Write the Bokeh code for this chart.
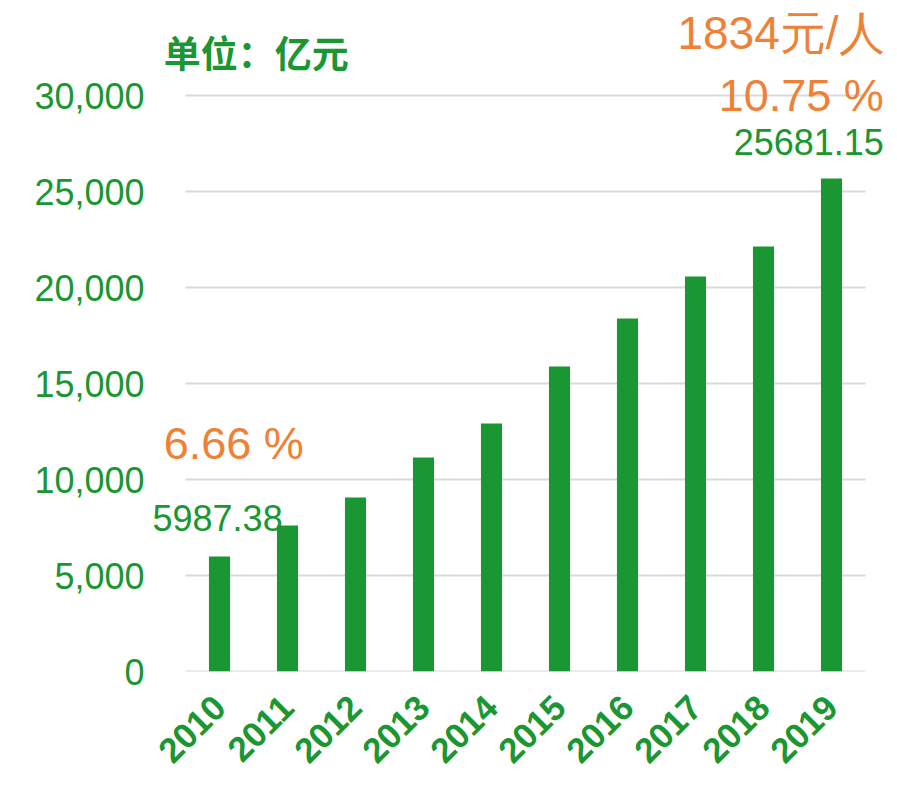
from bokeh.plotting import figure
from bokeh.models import Range1d, FixedTicker, NumeralTickFormatter, Label
from bokeh.embed import file_html
from bokeh.resources import INLINE
import math

years = ["2010", "2011", "2012", "2013", "2014", "2015", "2016", "2017", "2018", "2019"]
values = [5987.38, 7600, 9060, 11150, 12920, 15880, 18380, 20570, 22130, 25681.15]
y_ticks = [0, 5000, 10000, 15000, 20000, 25000, 30000]
unit_text = "单位：亿元"
first_label = "5987.38"
last_label = "25681.15"
first_rate = "6.66 %"
last_rate = "10.75 %"
per_capita = "1834元/人"

GREEN = "#1a9632"
ORANGE = "#ef8136"
GRID = "#d9d9d9"
FONT = "Liberation Sans"

xs = list(range(len(years)))

# frame: image x 150..889 -> data (150-219)/68 .. (889-219)/68
p = figure(x_range=Range1d(-69 / 68, 670 / 68), y_range=Range1d(0, 671 / 0.0192),
           frame_width=739, frame_height=671,
           output_backend="svg", toolbar_location=None)
p.min_border_left = 150
p.min_border_right = 0
p.min_border_top = 0
p.min_border_bottom = 114
p.outline_line_color = None
p.background_fill_color = "white"
p.border_fill_color = "white"

# grid lines (span of the category band only)
p.segment(x0=[-0.5] * len(y_ticks), x1=[len(years) - 0.5] * len(y_ticks),
          y0=y_ticks, y1=y_ticks, line_color=GRID, line_width=2)

p.vbar(x=xs, top=values, width=0.31, color=GREEN, line_color=None)

# y axis
p.yaxis.ticker = FixedTicker(ticks=y_ticks)
p.yaxis.formatter = NumeralTickFormatter(format="0,0")
p.yaxis.axis_line_color = None
p.yaxis.major_tick_line_color = None
p.yaxis.minor_tick_line_color = None
p.yaxis.major_label_standoff = 0
p.yaxis.major_label_text_font = FONT
p.yaxis.major_label_text_font_size = "36px"
p.yaxis.major_label_text_color = GREEN

# x axis
p.xaxis.ticker = FixedTicker(ticks=xs)
p.xaxis.major_label_overrides = {i: y for i, y in zip(xs, years)}
p.xaxis.axis_line_color = None
p.xaxis.major_tick_line_color = None
p.xaxis.minor_tick_line_color = None
p.xaxis.major_label_orientation = math.pi / 4
p.xaxis.major_label_standoff = 24
p.xaxis.major_label_text_font = FONT
p.xaxis.major_label_text_font_style = "bold"
p.xaxis.major_label_text_font_size = "35px"
p.xaxis.major_label_text_color = GREEN

p.xgrid.grid_line_color = None
p.ygrid.grid_line_color = None

def add_label(x, y, text, color, size, align, font=FONT, style="normal"):
    p.add_layout(Label(x=x, y=y, text=text, text_color=color, text_font=font,
                       text_font_size=size, text_align=align, text_baseline="middle",
                       text_font_style=style))

add_label(-0.82, 32250, unit_text, GREEN, "37px", "left", font="Noto Sans CJK SC", style="bold")
add_label(9.78, 33250, per_capita, ORANGE, "46px", "right")
add_label(9.77, 30000, last_rate, ORANGE, "45px", "right")
add_label(9.77, 27600, last_label, GREEN, "36px", "right")
add_label(-0.82, 11880, first_rate, ORANGE, "45px", "left")
add_label(-0.985, 7970, first_label, GREEN, "36px", "left")

open("out.html", "w").write(file_html(p, INLINE))
